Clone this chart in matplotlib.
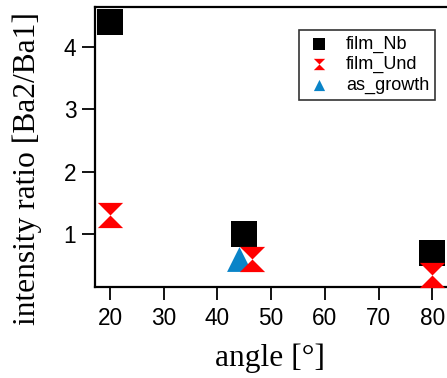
import numpy as np
import matplotlib.pyplot as plt
from matplotlib.path import Path

# data
angle_nb = [20, 45, 80]
ratio_nb = [4.4, 1.0, 0.70]

angle_und = [20, 46.4, 80]
ratio_und = [1.30, 0.60, 0.35]

angle_grow = [44]
ratio_grow = [0.60]

xticks = [20, 30, 40, 50, 60, 70, 80]
yticks = [1, 2, 3, 4]

# hourglass marker (two triangles meeting in the middle)
hourglass = Path([(-1, 1), (1, 1), (0, 0), (1, -1), (-1, -1), (0, 0), (-1, 1)],
                 [Path.MOVETO, Path.LINETO, Path.LINETO, Path.LINETO,
                  Path.LINETO, Path.LINETO, Path.CLOSEPOLY])

fig = plt.figure(figsize=(4.47, 3.78), dpi=100)
ax = fig.add_axes([0.2125, 0.2407, 0.7875, 0.7408])

ax.scatter(angle_nb, ratio_nb, marker='s', s=330, c='black', linewidths=0,
           label='film_Nb', zorder=3, clip_on=False)
ax.scatter(angle_und, ratio_und, marker=hourglass, s=330, c='#ff0000', linewidths=0,
           label='film_Und', zorder=5, clip_on=False)
ax.scatter(angle_grow, ratio_grow, marker='^', s=320, c='#0a84c8', linewidths=0,
           label='as_growth', zorder=4, clip_on=False)

ax.set_xlim(17.2, 82.75)
ax.set_ylim(0.15, 4.64)
ax.set_xticks(xticks)
ax.set_yticks(yticks)

for side in ['left', 'bottom', 'top']:
    ax.spines[side].set_linewidth(1.6)
ax.spines['right'].set_visible(False)

ax.tick_params(direction='out', length=9.5, width=1.3, labelsize=16.3)
ax.tick_params(axis='x', pad=5)
ax.tick_params(axis='y', pad=4)
for lab in ax.get_xticklabels() + ax.get_yticklabels():
    lab.set_fontfamily('Liberation Sans')

ax.set_xlabel('angle [°]', family='Liberation Serif', fontsize=22.7, va='center')
ax.set_ylabel('intensity ratio [Ba2/Ba1]', family='Liberation Serif', fontsize=22.7, va='center')
# label centres (pixels -> axes fraction)
ax.xaxis.set_label_coords((270 - 95) / 352, (287 - 358) / 280)
ax.yaxis.set_label_coords((27 - 95) / 352, (287 - 168) / 280)

leg = ax.legend(loc='upper left', bbox_to_anchor=(0.5795, 0.918), markerscale=0.45,
                prop={'family': 'Liberation Sans', 'size': 13}, frameon=True,
                fancybox=False, edgecolor='black', borderpad=0.3, labelspacing=0.2,
                handletextpad=0.7, handlelength=1.6, borderaxespad=0)
leg.get_frame().set_linewidth(1.2)

fig.savefig('out.png', dpi=100)
